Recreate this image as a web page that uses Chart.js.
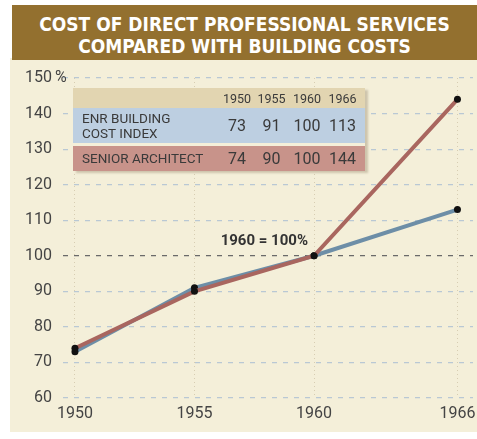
<!DOCTYPE html>
<html>
<head>
<meta charset="utf-8">
<script src="https://cdn.jsdelivr.net/npm/chart.js@4.4.1/dist/chart.umd.min.js"></script>
<style>
  html, body { margin: 0; padding: 0; background: #fff; }
  #wrap { position: relative; width: 477px; height: 439px; overflow: hidden; }
  #panel { position: absolute; left: 10px; top: 58px; width: 467px; height: 374px; background: #f4efd9; }
  #banner {
    position: absolute; left: 12px; top: 5px; width: 465px; height: 55px;
    background: #93702f; color: #fff; text-align: center;
    font-family: "DejaVu Sans Condensed", "DejaVu Sans", sans-serif; font-stretch: condensed;
    font-weight: bold; font-size: 19px; line-height: 21.5px; padding-top: 9px; box-sizing: border-box;
  }
  #chart { position: absolute; left: 0; top: 0; }
  #table {
    position: absolute; left: 73px; top: 88px; width: 292px;
    font-family: Roboto, sans-serif; color: #3a3a3a;
    box-shadow: 3px 2px 2px rgba(90, 70, 40, 0.25);
  }
  .row { display: grid; grid-template-columns: 147px 34px 35px 36px 35px 5px; align-items: center; }
  .row span.v { text-align: center; }
  .head { background: #e2d5b1; height: 20px; font-size: 12.5px; }
  .enr { background: #bdcfe1; height: 35px; margin-bottom: 3px; }
  .arch { background: #c8938a; height: 25px; }
  .lab { padding-left: 9px; font-size: 13.5px; line-height: 15px; }
  .num { font-size: 16px; }
</style>
</head>
<body>
<div id="wrap">
  <div id="panel"></div>
  <div id="banner">COST OF DIRECT PROFESSIONAL SERVICES<br>COMPARED WITH BUILDING COSTS</div>
  <canvas id="chart" width="477" height="439"></canvas>
  <div id="table"></div>
</div>
<script>
// index values, 1960 = 100
const years = [1950, 1955, 1960, 1966];
const enrIndex = [73, 91, 100, 113];
const seniorArchitect = [74, 90, 100, 144];
const yTicks = [60, 70, 80, 90, 100, 110, 120, 130, 140, 150];
const seriesNames = ['ENR BUILDING<br>COST INDEX', 'SENIOR ARCHITECT'];
const baseNote = '1960 = 100%';

// summary table above the lines
function buildTable() {
    const table = document.getElementById('table');
    let html = '<div class="row head"><span></span>' +
        years.map(y => `<span class="v">${y}</span>`).join('') + '<span></span></div>';
    html += '<div class="row enr"><span class="lab">' + seriesNames[0] + '</span>' +
        enrIndex.map(v => `<span class="v num">${v}</span>`).join('') + '<span></span></div>';
    html += '<div class="row arch"><span class="lab">' + seriesNames[1] + '</span>' +
        seniorArchitect.map(v => `<span class="v num">${v}</span>`).join('') + '<span></span></div>';
    table.innerHTML = html;
}

const toPoints = vals => vals.map((v, i) => ({ x: years[i], y: v }));
const isBase = ctx => ctx.tick && ctx.tick.value === 100;

// "%" after the top tick and the base-year note
const extras = {
    id: 'extras',
    afterDraw(chart) {
        const { ctx, scales: { x, y } } = chart;
        ctx.save();
        ctx.fillStyle = '#444';
        ctx.font = '16px Roboto, sans-serif';
        ctx.textBaseline = 'middle';
        ctx.textAlign = 'left';
        ctx.fillText('%', 55, y.getPixelForValue(150));

        ctx.font = 'bold 15px Roboto, sans-serif';
        ctx.fillStyle = '#333';
        ctx.textAlign = 'right';
        ctx.fillText(baseNote, x.getPixelForValue(1960) - 6, y.getPixelForValue(100) - 15);
        ctx.restore();
    }
};

document.addEventListener('DOMContentLoaded', () => {
    buildTable();

    const ctx = document.getElementById('chart').getContext('2d');
    new Chart(ctx, {
        type: 'line',
        data: {
            datasets: [
                {
                    label: 'Senior architect',
                    data: toPoints(seniorArchitect),
                    borderColor: '#a9665f',
                    borderWidth: 4,
                    pointRadius: 3.5,
                    pointBackgroundColor: '#111',
                    pointBorderWidth: 0,
                    tension: 0
                },
                {
                    label: 'ENR building cost index',
                    data: toPoints(enrIndex),
                    borderColor: '#6d8ea7',
                    borderWidth: 4,
                    pointRadius: 3.5,
                    pointBackgroundColor: '#111',
                    pointBorderWidth: 0,
                    tension: 0
                }
            ]
        },
        options: {
            responsive: false,
            animation: false,
            layout: { padding: { top: 78, right: 1, left: 0, bottom: 0 } },
            plugins: { legend: { display: false }, tooltip: { enabled: false } },
            scales: {
                x: {
                    type: 'linear',
                    min: 1949.5,
                    max: 1966.65,
                    afterBuildTicks: scale => { scale.ticks = years.map(v => ({ value: v })); },
                    afterFit: scale => {
                        scale.height = 41;
                        scale.paddingLeft = 0;
                        scale.paddingRight = 0;
                    },
                    border: { display: false, dash: [1, 3] },
                    grid: {
                        color: 'rgba(150, 125, 90, 0.3)',
                        lineWidth: 1,
                        drawTicks: false
                    },
                    ticks: {
                        color: '#444',
                        font: { family: 'Roboto, sans-serif', size: 16 },
                        padding: 6,
                        maxRotation: 0,
                        callback: v => String(v)
                    }
                },
                y: {
                    min: 60,
                    max: 150,
                    afterBuildTicks: scale => { scale.ticks = yTicks.map(v => ({ value: v })); },
                    afterFit: scale => { scale.width = 63; },
                    border: { display: false, dash: [5, 6] },
                    grid: {
                        color: ctx => isBase(ctx) ? '#6a6a6a' : '#b9c8d4',
                        lineWidth: ctx => isBase(ctx) ? 1.3 : 1.2,
                        drawTicks: false
                    },
                    ticks: {
                        color: '#444',
                        font: { family: 'Roboto, sans-serif', size: 16 },
                        padding: 11,
                        callback: v => String(v)
                    }
                }
            }
        },
        plugins: [extras]
    });
});
</script>
</body>
</html>
